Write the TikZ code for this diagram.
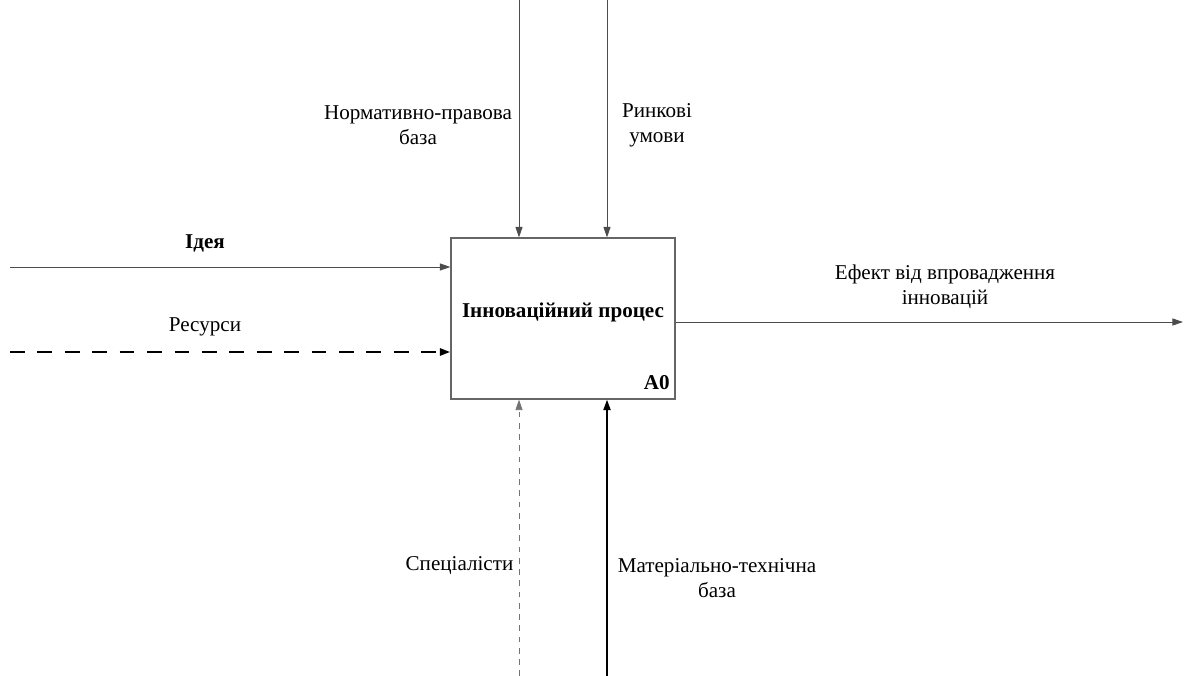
\documentclass[tikz,border=0pt]{standalone}
\usepackage{fontspec}
\setmainfont{Liberation Serif}
\newfontfamily\diagfont{Liberation Serif}
\usetikzlibrary{arrows.meta}
\begin{document}
\begin{tikzpicture}
[x=0.025cm,y=-0.025cm,
  boxdecorate/.style={draw=black!60,line width=0.8pt,minimum width=5.6cm,minimum height=4.025cm,inner sep=0pt},%
  labeldecorate/.style={align=center,inner sep=1pt,font=\diagfont\fontsize{15}{17.8}\selectfont},%
  arrowdecorate/.style={-{Triangle[length=7.5pt,width=5pt]},draw=black!70,line width=0.7pt},%
  heavydash/.style={arrowdecorate,draw=black,line width=1.8pt,dash pattern=on 10.5pt off 9pt},%
  lightdash/.style={arrowdecorate,draw=black!55,line width=0.6pt,dash pattern=on 4pt off 4pt},%
  heavyline/.style={arrowdecorate,draw=black,line width=1.4pt}]
\useasboundingbox (0,0) rectangle (1184,676);
%% activity box
\node (proc) at (563,318.5) [boxdecorate] {};
\node (procText) at (563,312) [labeldecorate,font=\diagfont\fontsize{15}{17.8}\selectfont\bfseries] {Інноваційний процес};
\node (code) at (proc.south east) [anchor=south east,inner xsep=4pt,inner ysep=7pt,font=\diagfont\fontsize{15}{17.8}\selectfont\bfseries] {A0};
%% free ends of arrows
\foreach \nodename/\x/\y in {ctrlA/519/0, ctrlB/607/0, inA/10/267, inB/10/352, outA/1183/322, mechA/519/676, mechB/607/676} {
  \coordinate (\nodename) at (\x,\y);
}
%% arrows
\draw[arrowdecorate] (ctrlA) -- (ctrlA |- proc.north);
\draw[arrowdecorate] (ctrlB) -- (ctrlB |- proc.north);
\draw[arrowdecorate] (inA) -- (inA -| proc.west);
\draw[heavydash] (inB) -- (inB -| proc.west);
\draw[arrowdecorate] (outA -| proc.east) -- (outA);
\draw[lightdash] (mechA) -- (mechA |- proc.south);
\draw[heavyline] (mechB) -- (mechB |- proc.south);
%% labels
\node (lblLaw) at (418,125) [labeldecorate] {Нормативно-правова\\база};
\node (lblMarket) at (657,125) [labeldecorate] {Ринкові\\умови};
\node (lblIdea) at (205,243) [labeldecorate,font=\diagfont\fontsize{15}{17.8}\selectfont\bfseries] {Ідея};
\node (lblRes) at (205,327) [labeldecorate] {Ресурси};
\node (lblEffect) at (945,287) [labeldecorate] {Ефект від впровадження\\інновацій};
\node (lblSpec) at (515,566) [labeldecorate,anchor=east] {Спеціалісти};
\node (lblMat) at (717,578) [labeldecorate] {Матеріально-технічна\\база};
\end{tikzpicture}
\end{document}
